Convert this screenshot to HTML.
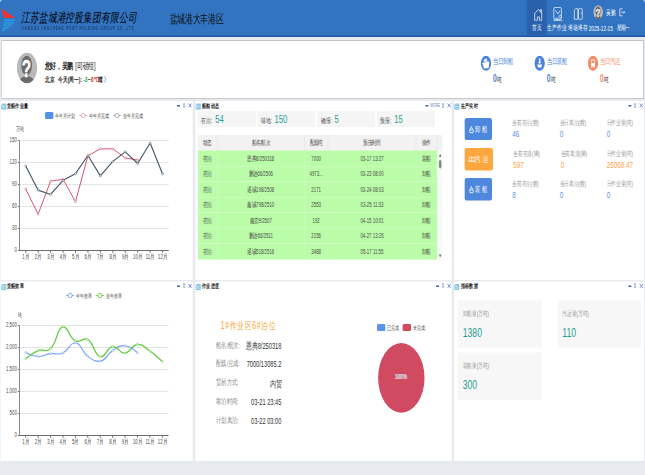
<!DOCTYPE html>
<html><head><meta charset="utf-8">
<style>
*{box-sizing:border-box;margin:0;padding:0}
html,body{width:645px;height:475px;overflow:hidden;background:#e7ebef;font-family:"Liberation Sans",sans-serif}
#s{position:absolute;left:0;top:0;width:1935px;height:950px;transform:scale(0.333333,0.5);transform-origin:0 0;background:#e7ebef}
.a{position:absolute;white-space:nowrap}
#hd{position:absolute;left:0;top:0;width:1935px;height:74px;background:#3274c2;border-bottom:3px solid #1c57a6}
.card{position:absolute;background:#fff}
.pn{position:absolute;background:#fff}
.pt{position:absolute;left:21px;top:203px;font-size:13px;font-weight:bold;color:#222}
.ctl{position:absolute;top:4px;font-size:12px;color:#4169b8}
</style></head><body>
<div id="s">
<!-- HEADER -->
<div id="hd">
  <svg class="a" style="left:0;top:0" width="60" height="72" viewBox="0 0 60 72">
    <polygon points="3.5,17 46,36 12.5,36" fill="#ee3333"/>
    <polygon points="12.6,39 45.6,39 44.5,42 11.7,42" fill="#2a9fe6"/>
    <polygon points="11.1,44 42.6,44 40.8,47 10.2,47" fill="#2a9fe6"/>
    <polygon points="9.6,49 36.6,49 33.5,52 8.7,52" fill="#2a9fe6"/>
    <polygon points="8.1,54 27.5,54 24.5,57 7.2,57" fill="#2a9fe6"/>
    <polygon points="6.6,59 17.6,59 14,62 5.7,62" fill="#2a9fe6"/>
  </svg>
  <div class="a" style="left:62px;top:17px;font-size:26px;letter-spacing:0.9px;font-weight:100;font-style:italic;color:#000;font-family:'Liberation Serif',serif">江苏盐城港控股集团有限公司</div>
  <div class="a" style="left:63px;top:51px;font-size:9px;letter-spacing:2.45px;color:#15233a">JIANGSU YANCHENG PORT HOLDING GROUP CO.,LTD</div>
  <div class="a" style="left:509px;top:22px;font-size:23px;font-weight:500;color:#111">盐城港大丰港区</div>
  <!-- nav -->
  <div class="a" style="left:1580px;top:0;width:60px;height:71px;background:#2961ad"></div>
  
  <div class="a" style="left:1596px;top:45px;font-size:14.5px;color:#fff">首页</div>
  
  <div class="a" style="left:1642px;top:45px;font-size:14.5px;color:#fff">生产作业</div>
  
  <div class="a" style="left:1703px;top:45px;font-size:14.5px;color:#fff">堆场堆存</div>
  <svg class="a" style="left:1779px;top:10px" width="31" height="29" viewBox="0 0 62 62"><defs><clipPath id="ch"><circle cx="31" cy="31" r="30.3"/></clipPath></defs><circle cx="31" cy="31" r="30.3" fill="#b9b9b9"/><g clip-path="url(#ch)"><ellipse cx="30" cy="26" rx="16" ry="19.5" fill="#6b6b6b"/><ellipse cx="30" cy="68" rx="28" ry="21" fill="#6b6b6b"/></g><text x="29.5" y="49.6" font-size="46" font-weight="bold" text-anchor="middle" fill="#fff" stroke="#fff" stroke-width="0.8" font-family="Liberation Sans">?</text></svg>
  <div class="a" style="left:1818px;top:15px;font-size:14.5px;color:#fff">吴鹏</div>
  
  <div class="a" style="left:1766px;top:49px;font-size:14px;letter-spacing:0.1px;color:#fff">2025-12-15</div>
  <div class="a" style="left:1850px;top:47px;font-size:13px;color:#fff">星期一</div>
</div>

<!-- WELCOME CARD -->
<div class="card" style="left:3px;top:80px;width:1929px;height:118px;border:solid #c8c8c8;border-width:2px 3px 2px 3px;border-top-color:#c4c4c4;border-left-color:#d6d6d6"></div>
<svg class="a" style="left:50px;top:105px" width="62" height="62" viewBox="0 0 62 62"><defs><clipPath id="cw"><circle cx="31" cy="31" r="30.3"/></clipPath></defs><circle cx="31" cy="31" r="30.3" fill="#b9b9b9"/><g clip-path="url(#cw)"><ellipse cx="30" cy="26" rx="16" ry="19.5" fill="#6b6b6b"/><ellipse cx="30" cy="68" rx="28" ry="21" fill="#6b6b6b"/></g><text x="29.5" y="49.6" font-size="46" font-weight="bold" text-anchor="middle" fill="#fff" stroke="#fff" stroke-width="0.8" font-family="Liberation Sans">?</text></svg>
<div class="a" style="left:134px;top:120px;font-size:17px;font-weight:500;color:#222"><b style="font-weight:700">您好，吴鹏</b><span style="margin-left:7px">[司磅组]</span></div>
<div class="a" style="left:135px;top:148px;font-size:14px;font-weight:600;letter-spacing:0.1px;color:#222">北京&nbsp;&nbsp; 今天(周一): <b style="color:#2aa655">-3</b><span style="margin:0 1px">~</span><b style="color:#e0262b">6℃</b>晴&nbsp;<span style="color:#999">》</span></div>
<!-- right stats -->
<svg class="a" style="left:1442px;top:111px" width="32" height="31" viewBox="0 0 32 31"><ellipse cx="16" cy="15.5" rx="15.5" ry="15" fill="#4a84da"/><path d="M5 15 L26 12 L24 25 L10 26 Z" fill="#fff"/><path d="M9 14 L10 8 L18 6 L21 12 Z" fill="#fff"/><path d="M11 12 L18 10" stroke="#4a84da" stroke-width="1.2"/></svg>
<div class="a" style="left:1479px;top:113px;font-size:15px;font-weight:500;letter-spacing:0.3px;color:#4a84da">当日卸船</div>
<div class="a" style="left:1479px;top:146px;font-size:14px;font-weight:500;color:#222"><b style="color:#4a84da;font-size:20px;margin-right:1px">0</b>吨</div>
<svg class="a" style="left:1603px;top:111px" width="32" height="31" viewBox="0 0 32 31"><ellipse cx="16" cy="15.5" rx="15.5" ry="15" fill="#4a84da"/><path d="M9 18 L23 18 L21 24 L11 24 Z M14 6 H18 V13 H21 L16 17 L11 13 H14Z" fill="#fff"/></svg>
<div class="a" style="left:1640px;top:113px;font-size:15px;font-weight:500;letter-spacing:0.3px;color:#4a84da">当日装船</div>
<div class="a" style="left:1640px;top:146px;font-size:14px;font-weight:500;color:#222"><b style="color:#4a84da;font-size:20px;margin-right:1px">0</b>吨</div>
<svg class="a" style="left:1763px;top:111px" width="32" height="31" viewBox="0 0 32 31"><ellipse cx="16" cy="15.5" rx="15.5" ry="15" fill="#fa8a66"/><path d="M10 8 H22 V22 H10 Z M12 10 V15 H20 V10 Z" fill="#fff"/><circle cx="12.5" cy="23" r="2" fill="#fff"/><circle cx="19.5" cy="23" r="2" fill="#fff"/></svg>
<div class="a" style="left:1800px;top:113px;font-size:15px;font-weight:500;letter-spacing:0.3px;color:#fa8a66">当日汽运</div>
<div class="a" style="left:1800px;top:146px;font-size:14px;font-weight:500;color:#222"><b style="color:#fa8a66;font-size:20px;margin-right:1px">0</b>吨</div>


<!-- PANELS -->
<div class="pn" style="left:0;top:202px;width:578px;height:358px;border-left:2px solid #edf1f5"></div>
<div class="pn" style="left:586px;top:202px;width:769px;height:358px"></div>
<div class="pn" style="left:1362px;top:202px;width:570px;height:358px"></div>
<div class="pn" style="left:0;top:563px;width:578px;height:359px;border-left:2px solid #edf1f5"></div>
<div class="pn" style="left:586px;top:563px;width:769px;height:359px"></div>
<div class="pn" style="left:1362px;top:563px;width:570px;height:359px"></div>

<svg class="a" style="left:3px;top:206px" width="17" height="14" viewBox="0 0 17 14"><path d="M4 1 H15 Q16.5 1 16.5 3 V11 Q16.5 13.5 14 13.5 H3 Q0.5 13.5 0.5 11 V5 Z" fill="#8dcae8"/><path d="M2 6.5 H11" stroke="#eef8fd" stroke-width="1.8"/><path d="M2 10 H13" stroke="#bfe3f3" stroke-width="1.4"/></svg><div class="a" style="left:20px;top:203px;font-size:12.5px;font-weight:bold;color:#1b1b1b">货船作业量</div><div class="a" style="left:531px;top:210px;width:9px;height:3px;background:#3f68bd"></div><div class="a" style="left:545px;top:203px;font-size:13px;color:#5b7ec7">&#8661;</div>
<svg class="a" style="left:586px;top:206px" width="17" height="14" viewBox="0 0 17 14"><path d="M4 1 H15 Q16.5 1 16.5 3 V11 Q16.5 13.5 14 13.5 H3 Q0.5 13.5 0.5 11 V5 Z" fill="#8dcae8"/><path d="M2 6.5 H11" stroke="#eef8fd" stroke-width="1.8"/><path d="M2 10 H13" stroke="#bfe3f3" stroke-width="1.4"/></svg><div class="a" style="left:606px;top:203px;font-size:12.5px;font-weight:bold;color:#1b1b1b">船舶动态</div><div class="a" style="left:1276px;top:210px;width:9px;height:3px;background:#3f68bd"></div><div class="a" style="left:1291px;top:206px;font-size:9px;letter-spacing:0.5px;color:#5a7cc4">MORE</div><div class="a" style="left:1322px;top:203px;font-size:13px;color:#5b7ec7">&#8661;</div>
<svg class="a" style="left:1362px;top:206px" width="17" height="14" viewBox="0 0 17 14"><path d="M4 1 H15 Q16.5 1 16.5 3 V11 Q16.5 13.5 14 13.5 H3 Q0.5 13.5 0.5 11 V5 Z" fill="#8dcae8"/><path d="M2 6.5 H11" stroke="#eef8fd" stroke-width="1.8"/><path d="M2 10 H13" stroke="#bfe3f3" stroke-width="1.4"/></svg><div class="a" style="left:1382px;top:203px;font-size:12.5px;font-weight:bold;color:#1b1b1b">生产实时</div><div class="a" style="left:1885px;top:210px;width:9px;height:3px;background:#3f68bd"></div><div class="a" style="left:1899px;top:203px;font-size:13px;color:#5b7ec7">&#8661;</div>
<svg class="a" style="left:3px;top:567px" width="17" height="14" viewBox="0 0 17 14"><path d="M4 1 H15 Q16.5 1 16.5 3 V11 Q16.5 13.5 14 13.5 H3 Q0.5 13.5 0.5 11 V5 Z" fill="#8dcae8"/><path d="M2 6.5 H11" stroke="#eef8fd" stroke-width="1.8"/><path d="M2 10 H13" stroke="#bfe3f3" stroke-width="1.4"/></svg><div class="a" style="left:20px;top:564px;font-size:12.5px;font-weight:bold;color:#1b1b1b">货船效率</div><div class="a" style="left:531px;top:571px;width:9px;height:3px;background:#3f68bd"></div><div class="a" style="left:545px;top:564px;font-size:13px;color:#5b7ec7">&#8661;</div>
<svg class="a" style="left:586px;top:567px" width="17" height="14" viewBox="0 0 17 14"><path d="M4 1 H15 Q16.5 1 16.5 3 V11 Q16.5 13.5 14 13.5 H3 Q0.5 13.5 0.5 11 V5 Z" fill="#8dcae8"/><path d="M2 6.5 H11" stroke="#eef8fd" stroke-width="1.8"/><path d="M2 10 H13" stroke="#bfe3f3" stroke-width="1.4"/></svg><div class="a" style="left:606px;top:564px;font-size:12.5px;font-weight:bold;color:#1b1b1b">作业进度</div><div class="a" style="left:1308px;top:571px;width:9px;height:3px;background:#3f68bd"></div><div class="a" style="left:1322px;top:564px;font-size:13px;color:#5b7ec7">&#8661;</div>
<svg class="a" style="left:1362px;top:567px" width="17" height="14" viewBox="0 0 17 14"><path d="M4 1 H15 Q16.5 1 16.5 3 V11 Q16.5 13.5 14 13.5 H3 Q0.5 13.5 0.5 11 V5 Z" fill="#8dcae8"/><path d="M2 6.5 H11" stroke="#eef8fd" stroke-width="1.8"/><path d="M2 10 H13" stroke="#bfe3f3" stroke-width="1.4"/></svg><div class="a" style="left:1382px;top:564px;font-size:12.5px;font-weight:bold;color:#1b1b1b">指标数据</div><div class="a" style="left:1885px;top:571px;width:9px;height:3px;background:#3f68bd"></div><div class="a" style="left:1899px;top:564px;font-size:13px;color:#5b7ec7">&#8661;</div>
<div class="a" style="right:1884.5px;top:492.0px;font-size:13px;color:#4a4a4a;text-align:right">0</div>
<div class="a" style="right:1884.5px;top:448.0px;font-size:13px;color:#4a4a4a;text-align:right">30</div>
<div class="a" style="right:1884.5px;top:404.0px;font-size:13px;color:#4a4a4a;text-align:right">60</div>
<div class="a" style="right:1884.5px;top:360.0px;font-size:13px;color:#4a4a4a;text-align:right">90</div>
<div class="a" style="right:1884.5px;top:316.0px;font-size:13px;color:#4a4a4a;text-align:right">120</div>
<div class="a" style="right:1884.5px;top:272.0px;font-size:13px;color:#4a4a4a;text-align:right">150</div>
<div class="a" style="left:57.2px;width:40px;text-align:center;top:504.0px;font-size:13px;font-weight:500;color:#4a4a4a">1月</div>
<div class="a" style="left:94.5px;width:40px;text-align:center;top:504.0px;font-size:13px;font-weight:500;color:#4a4a4a">2月</div>
<div class="a" style="left:131.8px;width:40px;text-align:center;top:504.0px;font-size:13px;font-weight:500;color:#4a4a4a">3月</div>
<div class="a" style="left:169.1px;width:40px;text-align:center;top:504.0px;font-size:13px;font-weight:500;color:#4a4a4a">4月</div>
<div class="a" style="left:206.5px;width:40px;text-align:center;top:504.0px;font-size:13px;font-weight:500;color:#4a4a4a">5月</div>
<div class="a" style="left:243.8px;width:40px;text-align:center;top:504.0px;font-size:13px;font-weight:500;color:#4a4a4a">6月</div>
<div class="a" style="left:281.1px;width:40px;text-align:center;top:504.0px;font-size:13px;font-weight:500;color:#4a4a4a">7月</div>
<div class="a" style="left:318.4px;width:40px;text-align:center;top:504.0px;font-size:13px;font-weight:500;color:#4a4a4a">8月</div>
<div class="a" style="left:355.8px;width:40px;text-align:center;top:504.0px;font-size:13px;font-weight:500;color:#4a4a4a">9月</div>
<div class="a" style="left:393.1px;width:40px;text-align:center;top:504.0px;font-size:13px;font-weight:500;color:#4a4a4a">10月</div>
<div class="a" style="left:430.4px;width:40px;text-align:center;top:504.0px;font-size:13px;font-weight:500;color:#4a4a4a">11月</div>
<div class="a" style="left:467.7px;width:40px;text-align:center;top:504.0px;font-size:13px;font-weight:500;color:#4a4a4a">12月</div>
<div class="a" style="left:49px;top:250px;font-size:12px;font-weight:500;color:#4a4a4a">万吨</div>
<div class="a" style="left:135px;top:224px;width:25px;height:14px;border-radius:3px;background:#5790ec"></div>
<div class="a" style="left:165px;top:223px;font-size:12px;font-weight:500;color:#4a4a4a">今年月计划</div>
<svg class="a" style="left:236px;top:224px" width="27" height="14" viewBox="0 0 27 14"><path d="M1 7 H26" stroke="#d9506e" stroke-width="1" vector-effect="non-scaling-stroke"/><ellipse cx="13.5" cy="7" rx="6" ry="4.5" fill="#fff" stroke="#d9506e" stroke-width="1" vector-effect="non-scaling-stroke"/></svg>
<div class="a" style="left:267px;top:223px;font-size:12px;font-weight:500;color:#4a4a4a">今年月完成</div>
<svg class="a" style="left:338px;top:224px" width="27" height="14" viewBox="0 0 27 14"><path d="M1 7 H26" stroke="#3d5163" stroke-width="1" vector-effect="non-scaling-stroke"/><ellipse cx="13.5" cy="7" rx="6" ry="4.5" fill="#fff" stroke="#3d5163" stroke-width="1" vector-effect="non-scaling-stroke"/></svg>
<div class="a" style="left:368px;top:223px;font-size:12px;font-weight:500;color:#4a4a4a">去年月完成</div>

<div class="a" style="right:1884.5px;top:862.0px;font-size:13px;color:#4a4a4a;text-align:right">0</div>
<div class="a" style="right:1884.5px;top:818.0px;font-size:13px;color:#4a4a4a;text-align:right">500</div>
<div class="a" style="right:1884.5px;top:774.0px;font-size:13px;color:#4a4a4a;text-align:right">1,000</div>
<div class="a" style="right:1884.5px;top:730.0px;font-size:13px;color:#4a4a4a;text-align:right">1,500</div>
<div class="a" style="right:1884.5px;top:686.0px;font-size:13px;color:#4a4a4a;text-align:right">2,000</div>
<div class="a" style="right:1884.5px;top:642.0px;font-size:13px;color:#4a4a4a;text-align:right">2,500</div>
<div class="a" style="left:57.1px;width:40px;text-align:center;top:874.0px;font-size:13px;font-weight:500;color:#4a4a4a">1月</div>
<div class="a" style="left:94.4px;width:40px;text-align:center;top:874.0px;font-size:13px;font-weight:500;color:#4a4a4a">2月</div>
<div class="a" style="left:131.6px;width:40px;text-align:center;top:874.0px;font-size:13px;font-weight:500;color:#4a4a4a">3月</div>
<div class="a" style="left:168.9px;width:40px;text-align:center;top:874.0px;font-size:13px;font-weight:500;color:#4a4a4a">4月</div>
<div class="a" style="left:206.1px;width:40px;text-align:center;top:874.0px;font-size:13px;font-weight:500;color:#4a4a4a">5月</div>
<div class="a" style="left:243.4px;width:40px;text-align:center;top:874.0px;font-size:13px;font-weight:500;color:#4a4a4a">6月</div>
<div class="a" style="left:280.6px;width:40px;text-align:center;top:874.0px;font-size:13px;font-weight:500;color:#4a4a4a">7月</div>
<div class="a" style="left:317.9px;width:40px;text-align:center;top:874.0px;font-size:13px;font-weight:500;color:#4a4a4a">8月</div>
<div class="a" style="left:355.1px;width:40px;text-align:center;top:874.0px;font-size:13px;font-weight:500;color:#4a4a4a">9月</div>
<div class="a" style="left:392.4px;width:40px;text-align:center;top:874.0px;font-size:13px;font-weight:500;color:#4a4a4a">10月</div>
<div class="a" style="left:429.6px;width:40px;text-align:center;top:874.0px;font-size:13px;font-weight:500;color:#4a4a4a">11月</div>
<div class="a" style="left:466.9px;width:40px;text-align:center;top:874.0px;font-size:13px;font-weight:500;color:#4a4a4a">12月</div>
<div class="a" style="left:53px;top:621px;font-size:12px;font-weight:500;color:#4a4a4a">吨</div>
<svg class="a" style="left:197px;top:584px" width="27" height="14" viewBox="0 0 27 14"><path d="M1 7 H26" stroke="#73a2f2" stroke-width="2"/><ellipse cx="13.5" cy="7" rx="6" ry="4.5" fill="#fff" stroke="#73a2f2" stroke-width="2"/></svg>
<div class="a" style="left:228px;top:583px;font-size:12px;font-weight:500;color:#4a4a4a">今年效率</div>
<svg class="a" style="left:286px;top:584px" width="27" height="14" viewBox="0 0 27 14"><path d="M1 7 H26" stroke="#5dcb3c" stroke-width="2"/><ellipse cx="13.5" cy="7" rx="6" ry="4.5" fill="#fff" stroke="#5dcb3c" stroke-width="2"/></svg>
<div class="a" style="left:318px;top:583px;font-size:12px;font-weight:500;color:#4a4a4a">去年效率</div>

<div class="a" style="left:594px;top:222px;width:174px;height:32px;background:#f5f5f5"></div>
<div class="a" style="left:604px;top:224px;font-size:14px;font-weight:500;letter-spacing:0.6px;color:#444;line-height:26px">在泊:<span style="font-size:23px;font-weight:400;letter-spacing:0;color:#1f9e96;margin-left:8px">54</span></div>
<div class="a" style="left:772px;top:222px;width:174px;height:32px;background:#f5f5f5"></div>
<div class="a" style="left:782px;top:224px;font-size:14px;font-weight:500;letter-spacing:0.6px;color:#444;line-height:26px">锚地:<span style="font-size:23px;font-weight:400;letter-spacing:0;color:#1f9e96;margin-left:8px">150</span></div>
<div class="a" style="left:952px;top:222px;width:174px;height:32px;background:#f5f5f5"></div>
<div class="a" style="left:962px;top:224px;font-size:14px;font-weight:500;letter-spacing:0.6px;color:#444;line-height:26px">确报:<span style="font-size:23px;font-weight:400;letter-spacing:0;color:#1f9e96;margin-left:8px">5</span></div>
<div class="a" style="left:1131px;top:222px;width:174px;height:32px;background:#f5f5f5"></div>
<div class="a" style="left:1141px;top:224px;font-size:14px;font-weight:500;letter-spacing:0.6px;color:#444;line-height:26px">预报:<span style="font-size:23px;font-weight:400;letter-spacing:0;color:#1f9e96;margin-left:8px">15</span></div>
<div class="a" style="left:594px;top:270px;width:733px;height:30.5px;background:#f2f2f2"></div>
<div class="a" style="left:594px;top:270px;width:59px;height:30.5px;line-height:30px;text-align:center;font-size:13px;font-weight:500;color:#4a4a4a;border-right:2px solid #e6e6e6">动态</div>
<div class="a" style="left:653px;top:270px;width:261px;height:30.5px;line-height:30px;text-align:center;font-size:13px;font-weight:500;color:#4a4a4a;border-right:2px solid #e6e6e6">船名/航次</div>
<div class="a" style="left:914px;top:270px;width:71px;height:30.5px;line-height:30px;text-align:center;font-size:13px;font-weight:500;color:#4a4a4a;border-right:2px solid #e6e6e6">配载吨</div>
<div class="a" style="left:985px;top:270px;width:264px;height:30.5px;line-height:30px;text-align:center;font-size:13px;font-weight:500;color:#4a4a4a;border-right:2px solid #e6e6e6">预抵时间</div>
<div class="a" style="left:1249px;top:270px;width:63px;height:30.5px;line-height:30px;text-align:center;font-size:13px;font-weight:500;color:#4a4a4a;border-right:2px solid #e6e6e6">操作</div>
<div class="a" style="left:594px;top:300.50px;width:718px;height:31.15px;background:#bbfca8;border-top:1px solid #d6fbcc"></div>
<div class="a" style="left:594px;top:300.50px;width:59px;height:31.15px;line-height:31.1px;text-align:center;font-size:13px;font-weight:500;color:#4a4a4a;border-right:2px solid #d0f8c6">在泊</div>
<div class="a" style="left:653px;top:300.50px;width:261px;height:31.15px;line-height:31.1px;text-align:center;font-size:13px;font-weight:500;color:#4a4a4a;border-right:2px solid #d0f8c6">恩典8/250318</div>
<div class="a" style="left:914px;top:300.50px;width:71px;height:31.15px;line-height:31.1px;text-align:center;font-size:13px;font-weight:500;color:#4a4a4a;border-right:2px solid #d0f8c6">7000</div>
<div class="a" style="left:985px;top:300.50px;width:264px;height:31.15px;line-height:31.1px;text-align:center;font-size:13px;font-weight:500;color:#4a4a4a;border-right:2px solid #d0f8c6">03-17 13:27</div>
<div class="a" style="left:1249px;top:300.50px;width:63px;height:31.15px;line-height:31.1px;text-align:center;font-size:13px;font-weight:500;color:#4a4a4a;border-right:2px solid #d0f8c6">装船</div>
<div class="a" style="left:594px;top:331.65px;width:718px;height:31.15px;background:#bbfca8;border-top:1px solid #d6fbcc"></div>
<div class="a" style="left:594px;top:331.65px;width:59px;height:31.15px;line-height:31.1px;text-align:center;font-size:13px;font-weight:500;color:#4a4a4a;border-right:2px solid #d0f8c6">在泊</div>
<div class="a" style="left:653px;top:331.65px;width:261px;height:31.15px;line-height:31.1px;text-align:center;font-size:13px;font-weight:500;color:#4a4a4a;border-right:2px solid #d0f8c6">鹏达66/2506</div>
<div class="a" style="left:914px;top:331.65px;width:71px;height:31.15px;line-height:31.1px;text-align:center;font-size:13px;font-weight:500;color:#4a4a4a;border-right:2px solid #d0f8c6">4973...</div>
<div class="a" style="left:985px;top:331.65px;width:264px;height:31.15px;line-height:31.1px;text-align:center;font-size:13px;font-weight:500;color:#4a4a4a;border-right:2px solid #d0f8c6">03-23 08:00</div>
<div class="a" style="left:1249px;top:331.65px;width:63px;height:31.15px;line-height:31.1px;text-align:center;font-size:13px;font-weight:500;color:#4a4a4a;border-right:2px solid #d0f8c6">卸船</div>
<div class="a" style="left:594px;top:362.80px;width:718px;height:31.15px;background:#bbfca8;border-top:1px solid #d6fbcc"></div>
<div class="a" style="left:594px;top:362.80px;width:59px;height:31.15px;line-height:31.1px;text-align:center;font-size:13px;font-weight:500;color:#4a4a4a;border-right:2px solid #d0f8c6">在泊</div>
<div class="a" style="left:653px;top:362.80px;width:261px;height:31.15px;line-height:31.1px;text-align:center;font-size:13px;font-weight:500;color:#4a4a4a;border-right:2px solid #d0f8c6">通诚198/2508</div>
<div class="a" style="left:914px;top:362.80px;width:71px;height:31.15px;line-height:31.1px;text-align:center;font-size:13px;font-weight:500;color:#4a4a4a;border-right:2px solid #d0f8c6">2171</div>
<div class="a" style="left:985px;top:362.80px;width:264px;height:31.15px;line-height:31.1px;text-align:center;font-size:13px;font-weight:500;color:#4a4a4a;border-right:2px solid #d0f8c6">03-24 08:03</div>
<div class="a" style="left:1249px;top:362.80px;width:63px;height:31.15px;line-height:31.1px;text-align:center;font-size:13px;font-weight:500;color:#4a4a4a;border-right:2px solid #d0f8c6">卸船</div>
<div class="a" style="left:594px;top:393.95px;width:718px;height:31.15px;background:#bbfca8;border-top:1px solid #d6fbcc"></div>
<div class="a" style="left:594px;top:393.95px;width:59px;height:31.15px;line-height:31.1px;text-align:center;font-size:13px;font-weight:500;color:#4a4a4a;border-right:2px solid #d0f8c6">在泊</div>
<div class="a" style="left:653px;top:393.95px;width:261px;height:31.15px;line-height:31.1px;text-align:center;font-size:13px;font-weight:500;color:#4a4a4a;border-right:2px solid #d0f8c6">鑫诚798/2510</div>
<div class="a" style="left:914px;top:393.95px;width:71px;height:31.15px;line-height:31.1px;text-align:center;font-size:13px;font-weight:500;color:#4a4a4a;border-right:2px solid #d0f8c6">2553</div>
<div class="a" style="left:985px;top:393.95px;width:264px;height:31.15px;line-height:31.1px;text-align:center;font-size:13px;font-weight:500;color:#4a4a4a;border-right:2px solid #d0f8c6">03-25 11:33</div>
<div class="a" style="left:1249px;top:393.95px;width:63px;height:31.15px;line-height:31.1px;text-align:center;font-size:13px;font-weight:500;color:#4a4a4a;border-right:2px solid #d0f8c6">卸船</div>
<div class="a" style="left:594px;top:425.10px;width:718px;height:31.15px;background:#bbfca8;border-top:1px solid #d6fbcc"></div>
<div class="a" style="left:594px;top:425.10px;width:59px;height:31.15px;line-height:31.1px;text-align:center;font-size:13px;font-weight:500;color:#4a4a4a;border-right:2px solid #d0f8c6">在泊</div>
<div class="a" style="left:653px;top:425.10px;width:261px;height:31.15px;line-height:31.1px;text-align:center;font-size:13px;font-weight:500;color:#4a4a4a;border-right:2px solid #d0f8c6">鑫壹9/2507</div>
<div class="a" style="left:914px;top:425.10px;width:71px;height:31.15px;line-height:31.1px;text-align:center;font-size:13px;font-weight:500;color:#4a4a4a;border-right:2px solid #d0f8c6">192</div>
<div class="a" style="left:985px;top:425.10px;width:264px;height:31.15px;line-height:31.1px;text-align:center;font-size:13px;font-weight:500;color:#4a4a4a;border-right:2px solid #d0f8c6">04-15 10:01</div>
<div class="a" style="left:1249px;top:425.10px;width:63px;height:31.15px;line-height:31.1px;text-align:center;font-size:13px;font-weight:500;color:#4a4a4a;border-right:2px solid #d0f8c6">卸船</div>
<div class="a" style="left:594px;top:456.25px;width:718px;height:31.15px;background:#bbfca8;border-top:1px solid #d6fbcc"></div>
<div class="a" style="left:594px;top:456.25px;width:59px;height:31.15px;line-height:31.1px;text-align:center;font-size:13px;font-weight:500;color:#4a4a4a;border-right:2px solid #d0f8c6">在泊</div>
<div class="a" style="left:653px;top:456.25px;width:261px;height:31.15px;line-height:31.1px;text-align:center;font-size:13px;font-weight:500;color:#4a4a4a;border-right:2px solid #d0f8c6">鹏达66/2511</div>
<div class="a" style="left:914px;top:456.25px;width:71px;height:31.15px;line-height:31.1px;text-align:center;font-size:13px;font-weight:500;color:#4a4a4a;border-right:2px solid #d0f8c6">2156</div>
<div class="a" style="left:985px;top:456.25px;width:264px;height:31.15px;line-height:31.1px;text-align:center;font-size:13px;font-weight:500;color:#4a4a4a;border-right:2px solid #d0f8c6">04-27 13:26</div>
<div class="a" style="left:1249px;top:456.25px;width:63px;height:31.15px;line-height:31.1px;text-align:center;font-size:13px;font-weight:500;color:#4a4a4a;border-right:2px solid #d0f8c6">卸船</div>
<div class="a" style="left:594px;top:487.40px;width:718px;height:31.15px;background:#bbfca8;border-top:1px solid #d6fbcc"></div>
<div class="a" style="left:594px;top:487.40px;width:59px;height:31.15px;line-height:31.1px;text-align:center;font-size:13px;font-weight:500;color:#4a4a4a;border-right:2px solid #d0f8c6">在泊</div>
<div class="a" style="left:653px;top:487.40px;width:261px;height:31.15px;line-height:31.1px;text-align:center;font-size:13px;font-weight:500;color:#4a4a4a;border-right:2px solid #d0f8c6">通诚518/2516</div>
<div class="a" style="left:914px;top:487.40px;width:71px;height:31.15px;line-height:31.1px;text-align:center;font-size:13px;font-weight:500;color:#4a4a4a;border-right:2px solid #d0f8c6">3488</div>
<div class="a" style="left:985px;top:487.40px;width:264px;height:31.15px;line-height:31.1px;text-align:center;font-size:13px;font-weight:500;color:#4a4a4a;border-right:2px solid #d0f8c6">05-17 11:55</div>
<div class="a" style="left:1249px;top:487.40px;width:63px;height:31.15px;line-height:31.1px;text-align:center;font-size:13px;font-weight:500;color:#4a4a4a;border-right:2px solid #d0f8c6">卸船</div>
<div class="a" style="left:1313px;top:300.5px;width:14px;height:219px;background:#f8f8f8"></div>
<svg class="a" style="left:1313px;top:300px" width="14" height="220" viewBox="0 0 14 220"><path d="M3.5 13.5 L7.5 7.5 L11.5 13.5Z" fill="#777"/><rect x="3.5" y="20" width="8" height="17" rx="4" fill="#8a8a8a"/><path d="M3.5 209 L7.5 215 L11.5 209Z" fill="#777"/></svg>
<div class="a" style="left:1394.4px;top:235.6px;width:81.6px;height:44px;border-radius:5px;background:#4d88de"><svg class="a" style="left:13px;top:15px" width="15" height="16" viewBox="0 0 15 16"><path d="M7 1 V5 M4 5 H10 V9 M4 5 V9 M1 9 H14 L11.5 14 H3.5 Z" fill="none" stroke="#fff" stroke-width="1.6"/><path d="M1 15 H14" stroke="#fff" stroke-width="1.2"/></svg><div class="a" style="left:31px;top:11.0px;font-size:16.5px;letter-spacing:5px;color:#fff">卸船</div></div>
<div class="a" style="left:1394.4px;top:296px;width:85px;height:45.4px;border-radius:5px;background:#ffa73f"><svg class="a" style="left:11px;top:16px" width="22" height="12" viewBox="0 0 22 12"><path d="M1 10 L4 2 H10 V10 Z M10 3 H20 V10 H10" fill="none" stroke="#fff" stroke-width="1.8"/><path d="M1 11 H21" stroke="#fff" stroke-width="1.4"/></svg><div class="a" style="left:31.5px;top:11.7px;font-size:16.5px;letter-spacing:5px;color:#fff">汽运</div></div>
<div class="a" style="left:1394.4px;top:356px;width:81.6px;height:45.4px;border-radius:5px;background:#4d88de"><svg class="a" style="left:13px;top:15px" width="15" height="16" viewBox="0 0 15 16"><path d="M7 1 V5 M4 5 H10 V9 M4 5 V9 M1 9 H14 L11.5 14 H3.5 Z" fill="none" stroke="#fff" stroke-width="1.6"/><path d="M1 15 H14" stroke="#fff" stroke-width="1.2"/></svg><div class="a" style="left:31px;top:11.7px;font-size:16.5px;letter-spacing:5px;color:#fff">装船</div></div>
<div class="a" style="left:1537px;top:237px;font-size:14px;font-weight:500;color:#9a9a9a">当前在泊(艘)</div>
<div class="a" style="left:1537px;top:257px;font-size:19px;color:#5b8fe6">46</div>
<div class="a" style="left:1679px;top:237px;font-size:14px;font-weight:500;color:#9a9a9a">当日离泊(艘)</div>
<div class="a" style="left:1679px;top:257px;font-size:19px;color:#5b8fe6">0</div>
<div class="a" style="left:1820px;top:237px;font-size:14px;font-weight:500;color:#9a9a9a">日作业量(吨)</div>
<div class="a" style="left:1820px;top:257px;font-size:19px;color:#5b8fe6">0</div>
<div class="a" style="left:1540px;top:298px;font-size:14px;font-weight:500;color:#9a9a9a">当前在港(辆)</div>
<div class="a" style="left:1540px;top:318px;font-size:19px;color:#ffa54a">597</div>
<div class="a" style="left:1682px;top:298px;font-size:14px;font-weight:500;color:#9a9a9a">当前离港(辆)</div>
<div class="a" style="left:1682px;top:318px;font-size:19px;color:#ffa54a">0</div>
<div class="a" style="left:1820px;top:298px;font-size:14px;font-weight:500;color:#9a9a9a">日作业量(吨)</div>
<div class="a" style="left:1820px;top:318px;font-size:19px;color:#ffa54a">25068.47</div>
<div class="a" style="left:1537px;top:358px;font-size:14px;font-weight:500;color:#9a9a9a">当前在泊(艘)</div>
<div class="a" style="left:1537px;top:378px;font-size:19px;color:#5b8fe6">8</div>
<div class="a" style="left:1679px;top:358px;font-size:14px;font-weight:500;color:#9a9a9a">当日离泊(艘)</div>
<div class="a" style="left:1679px;top:378px;font-size:19px;color:#5b8fe6">0</div>
<div class="a" style="left:1820px;top:358px;font-size:14px;font-weight:500;color:#9a9a9a">日作业量(吨)</div>
<div class="a" style="left:1820px;top:378px;font-size:19px;color:#5b8fe6">0</div>
<div class="a" style="left:662px;top:638px;font-size:20px;letter-spacing:2.5px;font-weight:500;color:#f7a12c">1#作业区6#泊位</div>
<div class="a" style="left:649px;top:680.5px;font-size:15px;letter-spacing:0.5px;font-weight:500;color:#8a8a8a">船名/航次:</div>
<div class="a" style="right:1091px;top:680.5px;font-size:17px;font-weight:500;color:#333;text-align:right">恩典8/250318</div>
<div class="a" style="left:649px;top:718.3px;font-size:15px;letter-spacing:0.5px;font-weight:500;color:#8a8a8a">配载/完成:</div>
<div class="a" style="right:1091px;top:718.3px;font-size:17px;font-weight:500;color:#333;text-align:right">7000/13085.2</div>
<div class="a" style="left:649px;top:756.1px;font-size:15px;letter-spacing:0.5px;font-weight:500;color:#8a8a8a">贸易方式:</div>
<div class="a" style="right:1091px;top:756.1px;font-size:17px;font-weight:500;color:#333;text-align:right">内贸</div>
<div class="a" style="left:649px;top:793.9px;font-size:15px;letter-spacing:0.5px;font-weight:500;color:#8a8a8a">靠泊时间:</div>
<div class="a" style="right:1091px;top:793.9px;font-size:17px;font-weight:500;color:#333;text-align:right">03-21 23:45</div>
<div class="a" style="left:649px;top:831.7px;font-size:15px;letter-spacing:0.5px;font-weight:500;color:#8a8a8a">计划离泊:</div>
<div class="a" style="right:1091px;top:831.7px;font-size:17px;font-weight:500;color:#333;text-align:right">03-22 03:00</div>
<div class="a" style="left:1131px;top:648px;width:25px;height:14px;border-radius:3px;background:#5b93ee"></div>
<div class="a" style="left:1161px;top:647px;font-size:12px;color:#555">已完成</div>
<div class="a" style="left:1208px;top:648px;width:25px;height:14px;border-radius:3px;background:#d04a62"></div>
<div class="a" style="left:1238px;top:647px;font-size:12px;color:#555">未完成</div>
<svg class="a" style="left:1130px;top:680px" width="150" height="150" viewBox="0 0 150 150"><circle cx="74" cy="75.8" r="69.6" fill="#d04a62"/></svg>
<div class="a" style="left:1185px;top:745px;font-size:14px;color:#bdbdbd;text-shadow:1px 0 0 #e8e8e8,-1px 0 0 #e8e8e8">100%</div>
<div class="a" style="left:1373px;top:600.6px;width:251px;height:94.5px;background:#f7f7f7"></div>
<div class="a" style="left:1388px;top:617.6px;font-size:14px;color:#999">卸船量(万吨)</div>
<div class="a" style="left:1388px;top:648.6px;font-size:26px;color:#1f9e8e">1380</div>
<div class="a" style="left:1672px;top:600.6px;width:251px;height:94.5px;background:#f7f7f7"></div>
<div class="a" style="left:1687px;top:617.6px;font-size:14px;color:#999">汽运量(万吨)</div>
<div class="a" style="left:1687px;top:648.6px;font-size:26px;color:#1f9e8e">110</div>
<div class="a" style="left:1373px;top:705px;width:251px;height:94.5px;background:#f7f7f7"></div>
<div class="a" style="left:1388px;top:722px;font-size:14px;color:#999">装船量(万吨)</div>
<div class="a" style="left:1388px;top:753px;font-size:26px;color:#1f9e8e">300</div>

</div>
<svg style="position:absolute;left:0;top:0" width="645" height="475" viewBox="0 0 645 475"><path d="M188.57 103.50 L191.57 107.40 M191.57 103.50 L188.57 107.40" stroke="#5573c4" stroke-width="0.75" fill="none"/>
<path d="M447.57 103.50 L450.57 107.40 M450.57 103.50 L447.57 107.40" stroke="#5573c4" stroke-width="0.75" fill="none"/>
<path d="M639.90 103.50 L642.90 107.40 M642.90 103.50 L639.90 107.40" stroke="#5573c4" stroke-width="0.75" fill="none"/>
<path d="M188.57 284.00 L191.57 287.90 M191.57 284.00 L188.57 287.90" stroke="#5573c4" stroke-width="0.75" fill="none"/>
<path d="M447.57 284.00 L450.57 287.90 M450.57 284.00 L447.57 287.90" stroke="#5573c4" stroke-width="0.75" fill="none"/>
<path d="M639.90 284.00 L642.90 287.90 M642.90 284.00 L639.90 287.90" stroke="#5573c4" stroke-width="0.75" fill="none"/>
<g fill="none" stroke="#e2eaf6" stroke-width="0.8" stroke-linejoin="round"><path d="M534.2 14 L538.4 9.4 L542 13.6"/><path d="M534.7 13.6 V20.3 H537.4 V16.9 H539.4 V20.3 H541.7 V13.2"/><path d="M540.3 11.7 V9.7 H541.5 V12.9"/><rect x="553.8" y="7.5" width="7.6" height="12" rx="1.3"/><path d="M555.4 10.2 L557.8 14 L560 10.8 M555 18.3 H558.5 M553.6 20.4 H562.4"/><circle cx="560.2" cy="16.6" r="1.3"/><path d="M574.3 10.5 L575.6 8.7 H577.8 V19.3 H574.3 Z"/><rect x="578.5" y="8.7" width="3.8" height="10.6" rx="0.6"/><path d="M581 13.2 H582.3"/><path d="M622.5 8.8 H619.8 V15.8 H622.5 M621 12.3 H624.8 M623.6 11 L624.9 12.3 L623.6 13.6"/></g>
<path d="M0 0 H2.4 A2.4 2.4 0 0 0 0 2.4 Z" fill="#fff"/><path d="M645 0 H642.6 A2.4 2.4 0 0 1 645 2.4 Z" fill="#fff"/>
<path d="M19.5 228.50 H168.8" stroke="#e4e4e4" stroke-width="1" fill="none"/>
<path d="M19.5 206.50 H168.8" stroke="#e4e4e4" stroke-width="1" fill="none"/>
<path d="M19.5 184.50 H168.8" stroke="#e4e4e4" stroke-width="1" fill="none"/>
<path d="M19.5 162.50 H168.8" stroke="#e4e4e4" stroke-width="1" fill="none"/>
<path d="M19.5 140.50 H168.8" stroke="#e4e4e4" stroke-width="1" fill="none"/>
<path d="M19.5 140.5 V250.5" stroke="#8c8c8c" stroke-width="1" fill="none"/>
<path d="M19.0 250.5 H168.8" stroke="#6e6e6e" stroke-width="1" fill="none"/>
<path d="M17.9 250.50 H19.5" stroke="#6e6e6e" stroke-width="1" fill="none"/>
<path d="M17.9 228.50 H19.5" stroke="#6e6e6e" stroke-width="1" fill="none"/>
<path d="M17.9 206.50 H19.5" stroke="#6e6e6e" stroke-width="1" fill="none"/>
<path d="M17.9 184.50 H19.5" stroke="#6e6e6e" stroke-width="1" fill="none"/>
<path d="M17.9 162.50 H19.5" stroke="#6e6e6e" stroke-width="1" fill="none"/>
<path d="M17.9 140.50 H19.5" stroke="#6e6e6e" stroke-width="1" fill="none"/>
<path d="M25.72 250.5 V252.7" stroke="#6e6e6e" stroke-width="1" fill="none"/>
<path d="M38.16 250.5 V252.7" stroke="#6e6e6e" stroke-width="1" fill="none"/>
<path d="M50.60 250.5 V252.7" stroke="#6e6e6e" stroke-width="1" fill="none"/>
<path d="M63.05 250.5 V252.7" stroke="#6e6e6e" stroke-width="1" fill="none"/>
<path d="M75.49 250.5 V252.7" stroke="#6e6e6e" stroke-width="1" fill="none"/>
<path d="M87.93 250.5 V252.7" stroke="#6e6e6e" stroke-width="1" fill="none"/>
<path d="M100.37 250.5 V252.7" stroke="#6e6e6e" stroke-width="1" fill="none"/>
<path d="M112.81 250.5 V252.7" stroke="#6e6e6e" stroke-width="1" fill="none"/>
<path d="M125.25 250.5 V252.7" stroke="#6e6e6e" stroke-width="1" fill="none"/>
<path d="M137.70 250.5 V252.7" stroke="#6e6e6e" stroke-width="1" fill="none"/>
<path d="M150.14 250.5 V252.7" stroke="#6e6e6e" stroke-width="1" fill="none"/>
<path d="M162.58 250.5 V252.7" stroke="#6e6e6e" stroke-width="1" fill="none"/>
<path d="M25.72 189.05 L38.16 214.20 L50.60 181.05 L63.05 179.37 L75.49 201.66 L87.93 155.83 L100.37 148.86 L112.81 148.86 L125.25 157.95 L137.70 160.01" stroke="#d9566f" stroke-width="1.0" fill="none" stroke-linejoin="round"/>
<ellipse cx="25.72" cy="189.05" rx="0.9" ry="1.1" fill="#fff" stroke="#d9566f" stroke-width="0.5"/>
<ellipse cx="38.16" cy="214.20" rx="0.9" ry="1.1" fill="#fff" stroke="#d9566f" stroke-width="0.5"/>
<ellipse cx="50.60" cy="181.05" rx="0.9" ry="1.1" fill="#fff" stroke="#d9566f" stroke-width="0.5"/>
<ellipse cx="63.05" cy="179.37" rx="0.9" ry="1.1" fill="#fff" stroke="#d9566f" stroke-width="0.5"/>
<ellipse cx="75.49" cy="201.66" rx="0.9" ry="1.1" fill="#fff" stroke="#d9566f" stroke-width="0.5"/>
<ellipse cx="87.93" cy="155.83" rx="0.9" ry="1.1" fill="#fff" stroke="#d9566f" stroke-width="0.5"/>
<ellipse cx="100.37" cy="148.86" rx="0.9" ry="1.1" fill="#fff" stroke="#d9566f" stroke-width="0.5"/>
<ellipse cx="112.81" cy="148.86" rx="0.9" ry="1.1" fill="#fff" stroke="#d9566f" stroke-width="0.5"/>
<ellipse cx="125.25" cy="157.95" rx="0.9" ry="1.1" fill="#fff" stroke="#d9566f" stroke-width="0.5"/>
<ellipse cx="137.70" cy="160.01" rx="0.9" ry="1.1" fill="#fff" stroke="#d9566f" stroke-width="0.5"/>
<path d="M25.72 166.09 L38.16 190.15 L50.60 194.47 L63.05 180.32 L75.49 173.65 L87.93 155.53 L100.37 175.92 L112.81 161.40 L125.25 151.87 L137.70 163.53 L150.14 143.07 L162.58 174.01" stroke="#46586a" stroke-width="1.15" fill="none" stroke-linejoin="round"/>
<ellipse cx="25.72" cy="166.09" rx="0.9" ry="1.1" fill="#fff" stroke="#46586a" stroke-width="0.5"/>
<ellipse cx="38.16" cy="190.15" rx="0.9" ry="1.1" fill="#fff" stroke="#46586a" stroke-width="0.5"/>
<ellipse cx="50.60" cy="194.47" rx="0.9" ry="1.1" fill="#fff" stroke="#46586a" stroke-width="0.5"/>
<ellipse cx="63.05" cy="180.32" rx="0.9" ry="1.1" fill="#fff" stroke="#46586a" stroke-width="0.5"/>
<ellipse cx="75.49" cy="173.65" rx="0.9" ry="1.1" fill="#fff" stroke="#46586a" stroke-width="0.5"/>
<ellipse cx="87.93" cy="155.53" rx="0.9" ry="1.1" fill="#fff" stroke="#46586a" stroke-width="0.5"/>
<ellipse cx="100.37" cy="175.92" rx="0.9" ry="1.1" fill="#fff" stroke="#46586a" stroke-width="0.5"/>
<ellipse cx="112.81" cy="161.40" rx="0.9" ry="1.1" fill="#fff" stroke="#46586a" stroke-width="0.5"/>
<ellipse cx="125.25" cy="151.87" rx="0.9" ry="1.1" fill="#fff" stroke="#46586a" stroke-width="0.5"/>
<ellipse cx="137.70" cy="163.53" rx="0.9" ry="1.1" fill="#fff" stroke="#46586a" stroke-width="0.5"/>
<ellipse cx="150.14" cy="143.07" rx="0.9" ry="1.1" fill="#fff" stroke="#46586a" stroke-width="0.5"/>
<ellipse cx="162.58" cy="174.01" rx="0.9" ry="1.1" fill="#fff" stroke="#46586a" stroke-width="0.5"/>
<path d="M19.5 413.50 H168.5" stroke="#e4e4e4" stroke-width="1" fill="none"/>
<path d="M19.5 391.50 H168.5" stroke="#e4e4e4" stroke-width="1" fill="none"/>
<path d="M19.5 369.50 H168.5" stroke="#e4e4e4" stroke-width="1" fill="none"/>
<path d="M19.5 347.50 H168.5" stroke="#e4e4e4" stroke-width="1" fill="none"/>
<path d="M19.5 325.50 H168.5" stroke="#e4e4e4" stroke-width="1" fill="none"/>
<path d="M19.5 325.5 V435.5" stroke="#8c8c8c" stroke-width="1" fill="none"/>
<path d="M19.0 435.5 H168.5" stroke="#6e6e6e" stroke-width="1" fill="none"/>
<path d="M17.9 435.50 H19.5" stroke="#6e6e6e" stroke-width="1" fill="none"/>
<path d="M17.9 413.50 H19.5" stroke="#6e6e6e" stroke-width="1" fill="none"/>
<path d="M17.9 391.50 H19.5" stroke="#6e6e6e" stroke-width="1" fill="none"/>
<path d="M17.9 369.50 H19.5" stroke="#6e6e6e" stroke-width="1" fill="none"/>
<path d="M17.9 347.50 H19.5" stroke="#6e6e6e" stroke-width="1" fill="none"/>
<path d="M17.9 325.50 H19.5" stroke="#6e6e6e" stroke-width="1" fill="none"/>
<path d="M25.71 435.5 V437.7" stroke="#6e6e6e" stroke-width="1" fill="none"/>
<path d="M38.12 435.5 V437.7" stroke="#6e6e6e" stroke-width="1" fill="none"/>
<path d="M50.54 435.5 V437.7" stroke="#6e6e6e" stroke-width="1" fill="none"/>
<path d="M62.96 435.5 V437.7" stroke="#6e6e6e" stroke-width="1" fill="none"/>
<path d="M75.38 435.5 V437.7" stroke="#6e6e6e" stroke-width="1" fill="none"/>
<path d="M87.79 435.5 V437.7" stroke="#6e6e6e" stroke-width="1" fill="none"/>
<path d="M100.21 435.5 V437.7" stroke="#6e6e6e" stroke-width="1" fill="none"/>
<path d="M112.62 435.5 V437.7" stroke="#6e6e6e" stroke-width="1" fill="none"/>
<path d="M125.04 435.5 V437.7" stroke="#6e6e6e" stroke-width="1" fill="none"/>
<path d="M137.46 435.5 V437.7" stroke="#6e6e6e" stroke-width="1" fill="none"/>
<path d="M149.88 435.5 V437.7" stroke="#6e6e6e" stroke-width="1" fill="none"/>
<path d="M162.29 435.5 V437.7" stroke="#6e6e6e" stroke-width="1" fill="none"/>
<path d="M25.71 352.47 C25.71 352.47 31.88 356.18 38.12 356.48 C44.30 356.77 44.30 354.54 50.54 353.66 C56.72 352.78 57.15 355.51 62.96 352.96 C69.57 350.05 69.42 342.75 75.38 342.75 C81.83 343.62 81.03 351.25 87.79 356.30 C93.45 360.53 94.33 361.32 100.21 361.32 C106.75 359.83 106.08 354.77 112.62 350.67 C118.50 346.98 118.94 345.20 125.04 345.74 C131.36 346.30 137.46 352.87 137.46 352.87" stroke="#73a2f2" stroke-width="1.15" fill="none" stroke-linejoin="round"/>
<ellipse cx="25.71" cy="352.47" rx="0.9" ry="1.1" fill="#fff" stroke="#73a2f2" stroke-width="0.5"/>
<ellipse cx="38.12" cy="356.48" rx="0.9" ry="1.1" fill="#fff" stroke="#73a2f2" stroke-width="0.5"/>
<ellipse cx="50.54" cy="353.66" rx="0.9" ry="1.1" fill="#fff" stroke="#73a2f2" stroke-width="0.5"/>
<ellipse cx="62.96" cy="352.96" rx="0.9" ry="1.1" fill="#fff" stroke="#73a2f2" stroke-width="0.5"/>
<ellipse cx="75.38" cy="342.75" rx="0.9" ry="1.1" fill="#fff" stroke="#73a2f2" stroke-width="0.5"/>
<ellipse cx="87.79" cy="356.30" rx="0.9" ry="1.1" fill="#fff" stroke="#73a2f2" stroke-width="0.5"/>
<ellipse cx="100.21" cy="361.32" rx="0.9" ry="1.1" fill="#fff" stroke="#73a2f2" stroke-width="0.5"/>
<ellipse cx="112.62" cy="350.67" rx="0.9" ry="1.1" fill="#fff" stroke="#73a2f2" stroke-width="0.5"/>
<ellipse cx="125.04" cy="345.74" rx="0.9" ry="1.1" fill="#fff" stroke="#73a2f2" stroke-width="0.5"/>
<ellipse cx="137.46" cy="352.87" rx="0.9" ry="1.1" fill="#fff" stroke="#73a2f2" stroke-width="0.5"/>
<path d="M25.71 358.68 C25.71 358.68 31.67 353.20 38.12 350.58 C44.08 348.16 45.65 353.32 50.54 348.60 C58.07 341.33 56.12 328.72 62.96 326.60 C68.53 326.60 68.46 337.28 75.38 340.90 C80.87 343.77 82.51 336.25 87.79 339.58 C94.92 344.08 93.45 354.64 100.21 356.56 C105.87 358.18 106.21 347.54 112.62 346.66 C118.63 345.85 118.97 353.75 125.04 353.18 C131.39 352.58 131.13 344.87 137.46 344.33 C143.54 343.81 143.90 346.94 149.88 351.06 C156.31 355.50 162.29 361.45 162.29 361.45" stroke="#5dcb3c" stroke-width="1.25" fill="none" stroke-linejoin="round"/>
<ellipse cx="25.71" cy="358.68" rx="0.9" ry="1.1" fill="#fff" stroke="#5dcb3c" stroke-width="0.5"/>
<ellipse cx="38.12" cy="350.58" rx="0.9" ry="1.1" fill="#fff" stroke="#5dcb3c" stroke-width="0.5"/>
<ellipse cx="50.54" cy="348.60" rx="0.9" ry="1.1" fill="#fff" stroke="#5dcb3c" stroke-width="0.5"/>
<ellipse cx="62.96" cy="326.60" rx="0.9" ry="1.1" fill="#fff" stroke="#5dcb3c" stroke-width="0.5"/>
<ellipse cx="75.38" cy="340.90" rx="0.9" ry="1.1" fill="#fff" stroke="#5dcb3c" stroke-width="0.5"/>
<ellipse cx="87.79" cy="339.58" rx="0.9" ry="1.1" fill="#fff" stroke="#5dcb3c" stroke-width="0.5"/>
<ellipse cx="100.21" cy="356.56" rx="0.9" ry="1.1" fill="#fff" stroke="#5dcb3c" stroke-width="0.5"/>
<ellipse cx="112.62" cy="346.66" rx="0.9" ry="1.1" fill="#fff" stroke="#5dcb3c" stroke-width="0.5"/>
<ellipse cx="125.04" cy="353.18" rx="0.9" ry="1.1" fill="#fff" stroke="#5dcb3c" stroke-width="0.5"/>
<ellipse cx="137.46" cy="344.33" rx="0.9" ry="1.1" fill="#fff" stroke="#5dcb3c" stroke-width="0.5"/>
<ellipse cx="149.88" cy="351.06" rx="0.9" ry="1.1" fill="#fff" stroke="#5dcb3c" stroke-width="0.5"/>
<ellipse cx="162.29" cy="361.45" rx="0.9" ry="1.1" fill="#fff" stroke="#5dcb3c" stroke-width="0.5"/></svg>
</body></html>
